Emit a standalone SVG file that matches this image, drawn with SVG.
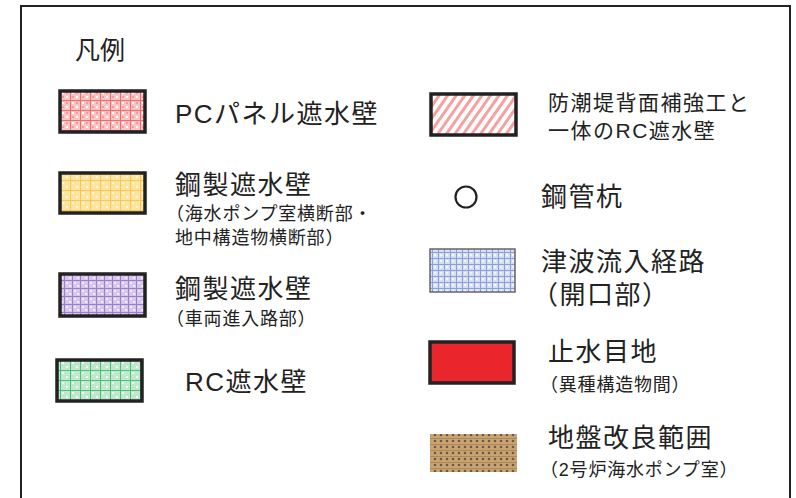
<svg xmlns="http://www.w3.org/2000/svg" width="796" height="498" viewBox="0 0 796 498">
<style>
.t{font-family:"Liberation Sans","Noto Sans CJK JP",sans-serif;fill:#222;}
.big{font-size:26px;letter-spacing:1.5px;}
.mid{font-size:21px;letter-spacing:1.5px;}
.sm{font-size:18px;letter-spacing:0.8px;}
.sw{stroke:#222;stroke-width:3.5;}
</style>
<defs>
<pattern id="pPink" width="10" height="10" patternUnits="userSpaceOnUse">
<rect width="10" height="10" fill="#f8c4c4"/>
<rect x="2" y="2" width="2" height="2" fill="#fff"/><rect x="6" y="6" width="2" height="2" fill="#fff"/>
<rect x="6" y="2" width="2" height="2" fill="#f49a9a"/><rect x="2" y="6" width="2" height="2" fill="#f49a9a"/>
<path d="M0 0.5H10M0.5 0V10" stroke="#f06c6c" stroke-width="1"/>
</pattern>
<pattern id="pYel" width="10" height="10" patternUnits="userSpaceOnUse">
<rect width="10" height="10" fill="#fde4a0"/>
<rect x="2" y="2" width="2" height="2" fill="#fff6dc"/><rect x="6" y="6" width="2" height="2" fill="#fff6dc"/>
<path d="M0 0.5H10M0.5 0V10" stroke="#f8c850" stroke-width="1"/>
</pattern>
<pattern id="pPur" width="8" height="8" patternUnits="userSpaceOnUse">
<rect width="8" height="8" fill="#d6c6ea"/>
<rect x="2" y="2" width="2" height="2" fill="#f0e8f8"/><rect x="5" y="5" width="2" height="2" fill="#f0e8f8"/>
<path d="M0 0.5H8M0.5 0V8" stroke="#9a7ccc" stroke-width="1"/>
</pattern>
<pattern id="pGrn" width="10" height="10" patternUnits="userSpaceOnUse">
<rect width="10" height="10" fill="#bfe8cc"/>
<rect x="2" y="2" width="2" height="2" fill="#eefaf2"/><rect x="6" y="6" width="2" height="2" fill="#eefaf2"/>
<path d="M0 0.5H10M0.5 0V10" stroke="#4cc078" stroke-width="1"/>
</pattern>
<pattern id="pHat" width="7" height="7" patternUnits="userSpaceOnUse" patternTransform="rotate(-55)">
<rect width="7" height="7" fill="#fff"/>
<rect width="7" height="3" fill="#f7a0a0"/>
</pattern>
<pattern id="pBlu" width="6" height="6" patternUnits="userSpaceOnUse">
<rect width="6" height="6" fill="#d8def4"/>
<rect x="2" y="2" width="2" height="2" fill="#f4f6fc"/>
<path d="M0 0.5H6M0.5 0V6" stroke="#8aa0d8" stroke-width="1"/>
</pattern>
<pattern id="pBrn" width="6" height="6" patternUnits="userSpaceOnUse">
<rect width="6" height="6" fill="#c8a474"/>
<circle cx="3" cy="3" r="1.3" fill="#6a5a48"/>
<path d="M0 0.5H6" stroke="#b08850" stroke-width="1"/>
</pattern>
</defs>
<rect x="21" y="6" width="769" height="500" fill="#fff" stroke="#222" stroke-width="2"/>
<text class="t" x="75" y="59" font-size="25">凡例</text>

<g id="pc">
<rect class="sw" x="60" y="91" width="85" height="41" fill="url(#pPink)"/>
<text class="t big" x="175" y="123">PCパネル遮水壁</text>
</g>
<g id="steel1">
<rect class="sw" x="60" y="173" width="85" height="40" fill="url(#pYel)"/>
<text class="t big" x="175" y="194">鋼製遮水壁</text>
<text class="t sm" x="166" y="220">（海水ポンプ室横断部・</text>
<text class="t sm" x="175" y="244">地中構造物横断部）</text>
</g>
<g id="steel2">
<rect class="sw" x="60" y="274" width="85" height="42" fill="url(#pPur)"/>
<text class="t big" x="175" y="298">鋼製遮水壁</text>
<text class="t sm" x="166" y="325">（車両進入路部）</text>
</g>
<g id="rc">
<rect class="sw" x="57" y="360" width="85" height="41" fill="url(#pGrn)"/>
<text class="t big" x="185" y="391">RC遮水壁</text>
</g>
<g id="rcwall">
<rect class="sw" x="431" y="94" width="85" height="41" fill="url(#pHat)"/>
<text class="t mid" x="548" y="110">防潮堤背面補強工と</text>
<text class="t mid" x="548" y="138">一体のRC遮水壁</text>
</g>
<g id="pile">
<circle cx="466" cy="197" r="10.5" fill="none" stroke="#222" stroke-width="2.2"/>
<text class="t big" x="541" y="206">鋼管杭</text>
</g>
<g id="tsunami">
<rect x="430" y="249" width="85" height="43" fill="url(#pBlu)" stroke="#666" stroke-width="1.5"/>
<text class="t big" x="541" y="271">津波流入経路</text>
<text class="t big" x="532" y="304" letter-spacing="0">（開口部）</text>
</g>
<g id="joint">
<rect class="sw" x="430" y="342" width="84" height="41" fill="#e8262b"/>
<text class="t big" x="548" y="361">止水目地</text>
<text class="t sm" x="540" y="391">（異種構造物間）</text>
</g>
<g id="ground">
<rect x="430" y="434" width="87" height="38" fill="url(#pBrn)"/>
<text class="t big" x="548" y="447">地盤改良範囲</text>
<text class="t sm" x="540" y="476">（2号炉海水ポンプ室）</text>
</g>
</svg>
